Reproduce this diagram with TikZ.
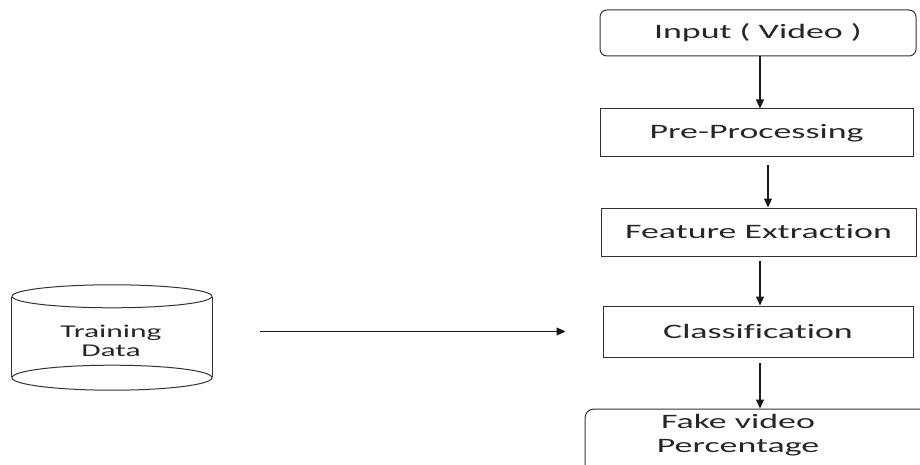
\documentclass[tikz,border=0pt]{standalone}
\usepackage{fontspec}
\newfontfamily\lblfont{Carlito}[FakeStretch=1.75, Ligatures=NoCommon]
\usetikzlibrary{arrows.meta}
\tikzset{
  stage/.style={draw=black!80, line width=1pt, minimum width=#1, minimum height=48pt,
    inner sep=0pt, text=black!85, font=\lblfont\fontsize{20.5}{24}\selectfont},
  flow/.style={draw=black!90, line width=1.1pt, -{Triangle[length=9pt,width=8pt]}},
  drum/.style={draw=black!80, line width=1pt}
}
\begin{document}
\begin{tikzpicture}[x=1pt,y=-1pt]
\useasboundingbox (0,0) rectangle (920,465);
\begin{scope}
\clip (0,0) rectangle (920,465);

% processing pipeline
\node[stage=316pt, minimum height=46pt, rounded corners=7pt] (in) at (758,33) {Input ( Video )};
\node[stage=313pt] (pre) at (756.5,133) {Pre-Processing};
\node[stage=315pt] (feat) at (758.5,232) {Feature Extraction};
\node[stage=310pt, minimum height=51pt] (cls) at (758,331.5) {Classification};
\node[stage=345pt, minimum height=64pt, rounded corners=9pt] (fake) at (757.5,441) {};
\node[font=\lblfont\fontsize{20.5}{24}\selectfont, text=black!85, align=center, inner sep=0pt] (fakelbl) at (738,435) {Fake video\\Percentage};

% columns of the connectors
\coordinate (c1) at (760,0);
\coordinate (c2) at (768,0);
\coordinate (c3) at (760,0);
\coordinate (c4) at (760,0);

\draw[flow] (in.south -| c1) -- (pre.north -| c1);
\draw[flow, shorten <=8pt] (pre.south -| c2) -- (feat.north -| c2);
\draw[flow, shorten <=4pt] (feat.south -| c3) -- (cls.north -| c3);
\draw[flow, shorten <=5pt] (cls.south -| c4) -- (fake.north -| c4);

% training data store
\node[minimum width=200pt, minimum height=105pt, inner sep=0pt] (db) at (112,337.5) {};
\draw[drum] ([yshift=-12pt]db.north west) -- ([yshift=13pt]db.south west);
\draw[drum] ([yshift=-12pt]db.north east) -- ([yshift=13pt]db.south east);
\draw[drum] ([yshift=-11.5pt]db.north) ellipse [x radius=100pt, y radius=11.5pt];
\draw[drum] ([yshift=12.5pt]db.south) ellipse [x radius=100pt, y radius=12.5pt];
\node[font=\lblfont\fontsize{18}{19}\selectfont, text=black!85, align=center, inner sep=0pt] (dblbl) at (111,341) {Training\\Data};

\draw[flow, shorten <=48pt, shorten >=37pt] (db.east |- cls.west) -- (cls.west);
\end{scope}
\end{tikzpicture}
\end{document}
